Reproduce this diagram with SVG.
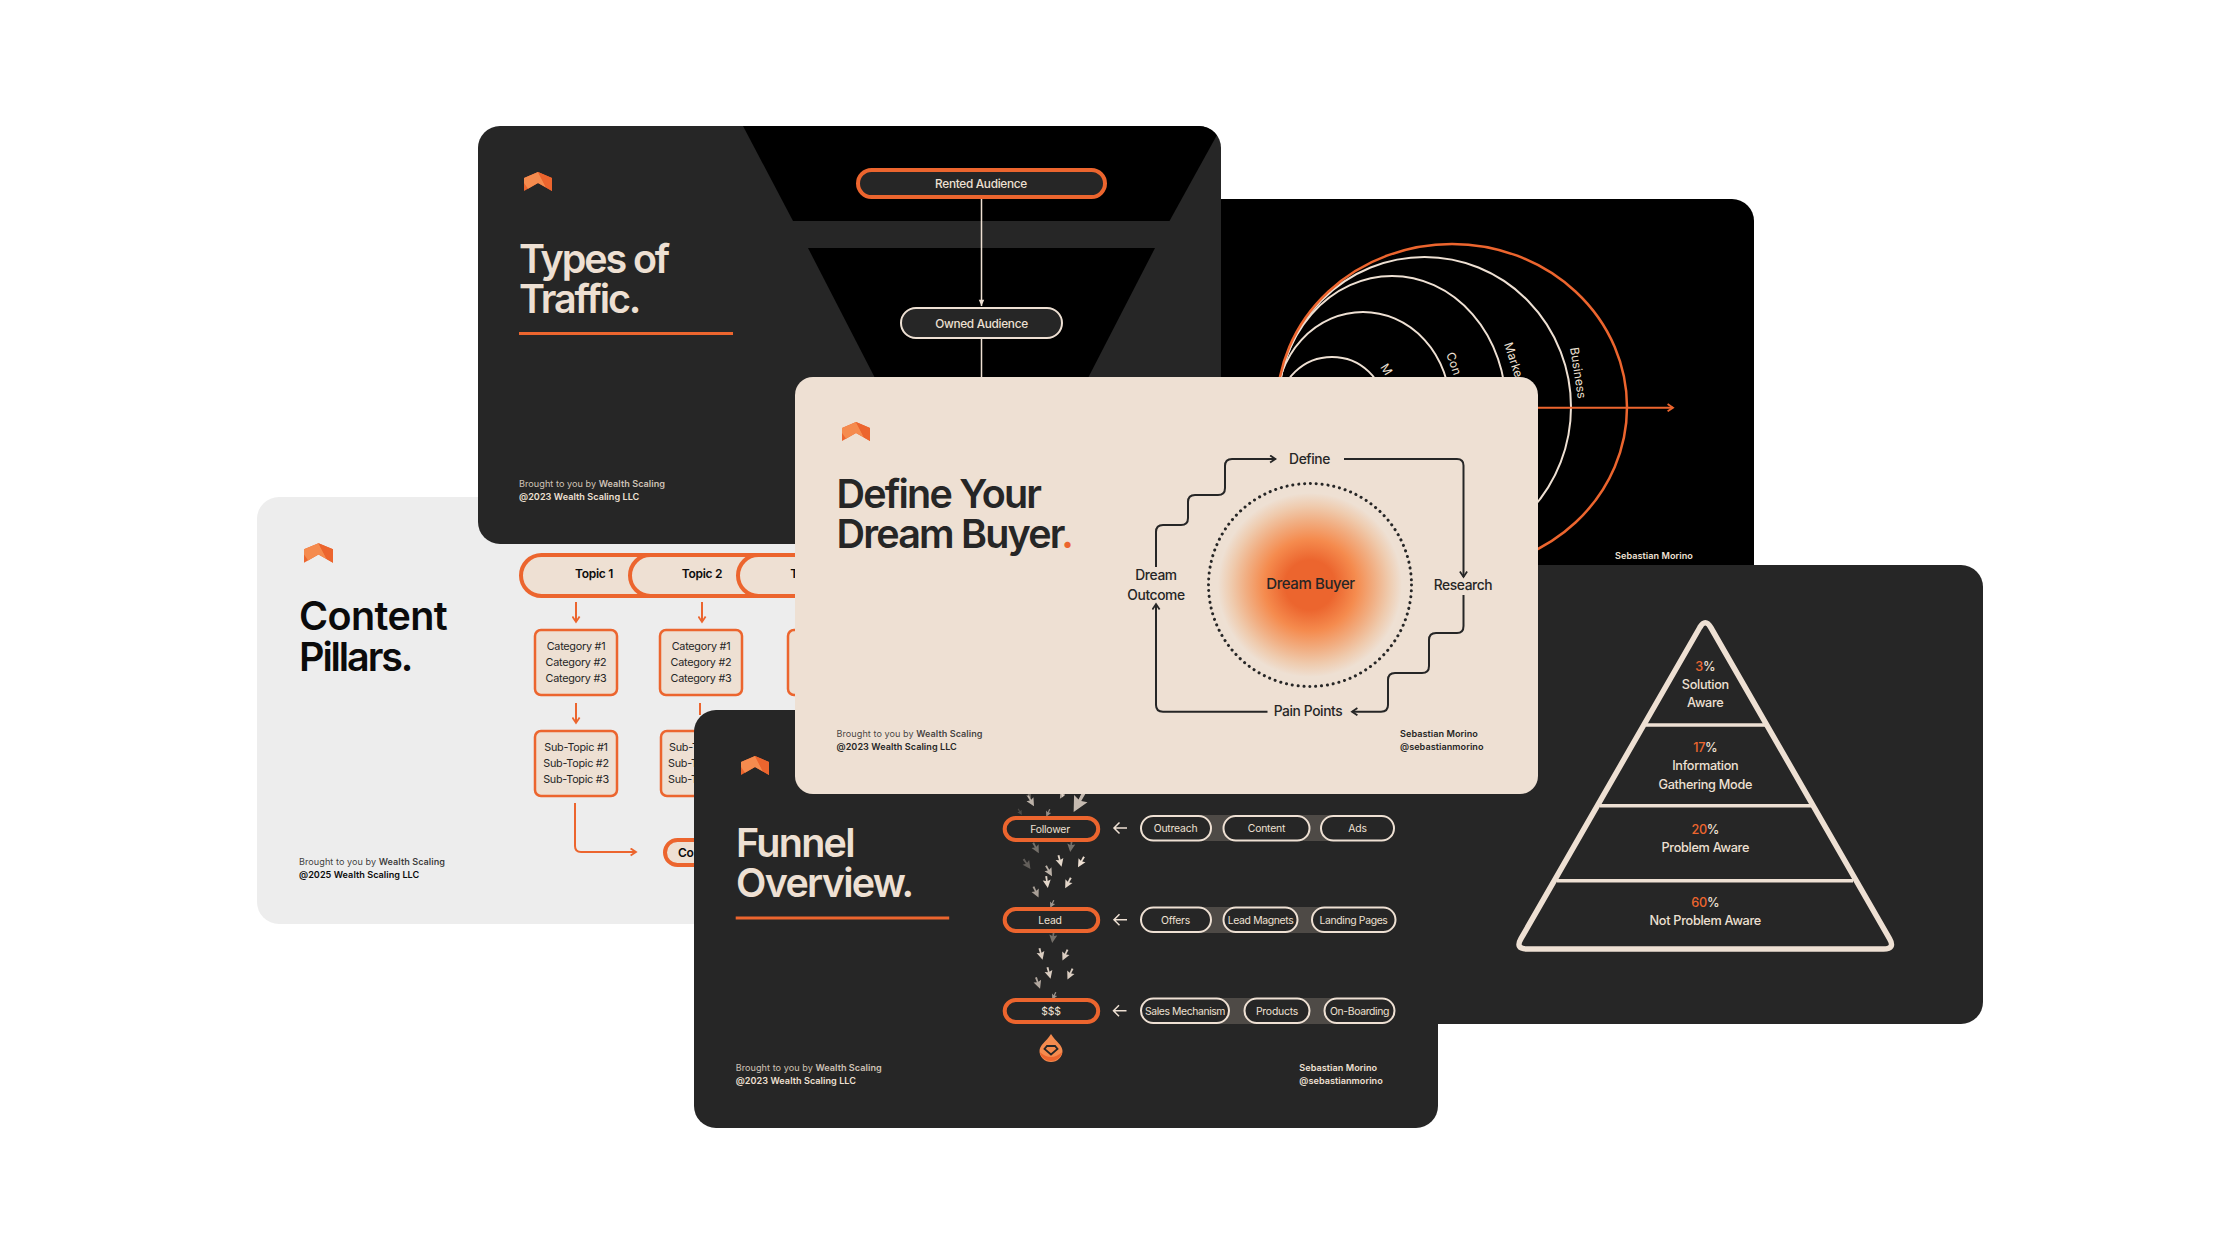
<svg xmlns="http://www.w3.org/2000/svg" width="2240" height="1260" viewBox="0 0 2240 1260">
<style>
text{font-family:"Inter","Liberation Sans",sans-serif;}
.card{stroke:none}
.dk{fill:#262626}.bk{fill:#000}.cr{fill:#EEE0D3}.gy{fill:#EDEDED}
.title{font-size:39.5px;font-weight:600;letter-spacing:-2.1px}
.tc{fill:#EEE0D3}.td{fill:#262626}.tb{fill:#0b0b0b}.to{fill:#EC652E}
.foot{font-size:9.1px;letter-spacing:.05px;font-weight:400}
.foot tspan{font-weight:600}
.lab{font-size:11.8px;text-anchor:middle;font-weight:500;letter-spacing:-.3px}
.nav{font-size:10.4px;text-anchor:middle;letter-spacing:-.2px}
.dia{font-size:13.8px;text-anchor:middle;font-weight:500;letter-spacing:-.4px}
.pyr{font-size:12.7px;text-anchor:middle;font-weight:500;letter-spacing:-.3px}
.cat{font-size:10.8px;text-anchor:middle;letter-spacing:-.25px}
.top{font-size:12px;text-anchor:middle;font-weight:600;letter-spacing:-.3px}
.arc{font-size:12px;letter-spacing:.1px}
.po{fill:#262626;stroke:#EC652E;stroke-width:4}
.pc{fill:#262626;stroke:#EEE0D3;stroke-width:2}
.bo{fill:#EEE0D3;stroke:#EC652E;stroke-width:2.5}
.lo{fill:none;stroke:#EC652E;stroke-width:2}
.lc{fill:none;stroke:#EEE0D3;stroke-width:1.5}
.ld{fill:none;stroke:#262626;stroke-width:2}
.band{fill:#4E4A46}
</style>
<defs>
<symbol id="logo" viewBox="0 0 28 19" overflow="visible">
<path d="M0 6 14 0 28 6V19L14 11 0 19Z" fill="#EC652E"/>
<path d="M0 6 14 0 22 15.500 14 11 4 16.700 0 11Z" fill="#F58B4E"/>
<path d="M14 0 21 3 28 6V19L22 15.500Z" fill="#EC652E"/>
</symbol>
<marker id="ao" viewBox="0 0 10 10" refX="8" refY="5" markerWidth="4.500" markerHeight="4.500" orient="auto"><path d="M2 1 8 5 2 9" fill="none" stroke="#EC652E" stroke-width="2"/></marker>
<marker id="ad" viewBox="0 0 10 10" refX="8" refY="5" markerWidth="4.500" markerHeight="4.500" orient="auto"><path d="M2 1 8 5 2 9" fill="none" stroke="#262626" stroke-width="2"/></marker>
<marker id="ac" viewBox="0 0 10 10" refX="9" refY="5" markerWidth="6" markerHeight="6" orient="auto"><path d="M2 2 9 5 2 8Z" fill="#EEE0D3"/></marker>
<path id="fl" d="M0 6-4-2-.8-1-1-6 1-6 .8-1 4-2Z" fill="#EEE0D3"/>
<clipPath id="c1"><rect x="478" y="126" width="743" height="418" rx="22"/></clipPath>
<radialGradient id="glow">
<stop offset="0" stop-color="#EC652E"/><stop offset=".27" stop-color="#EC652E"/><stop offset=".5" stop-color="#F58B4E"/><stop offset=".7" stop-color="#F1AE82"/><stop offset=".86" stop-color="#EFCBAE"/><stop offset="1" stop-color="#EEE0D3"/>
</radialGradient>
</defs>
<rect width="2240" height="1260" fill="#fff"/>

<g id="card-content-pillars">
<rect class="card gy" x="257" y="497" width="743" height="427" rx="22"/>
<use href="#logo" x="304" y="543" width="29" height="20"/>
<text class="title tb" x="299" y="630"><tspan style="letter-spacing:-.6px">Content</tspan><tspan x="299" y="670.500">Pillars.</tspan></text>
<text class="foot tb" x="299" y="865" fill-opacity=".8">Brought to you by <tspan>Wealth Scaling</tspan></text>
<text class="foot tb" x="299" y="878"><tspan>@2025 Wealth Scaling LLC</tspan></text>
<g id="topic-1"><rect class="bo" x="521" y="555" width="190" height="41" rx="20.500" style="stroke-width:4"/><text class="top tb" x="594" y="578">Topic 1</text></g>
<g id="topic-2"><rect class="bo" x="630" y="555" width="190" height="41" rx="20.500" style="stroke-width:4"/><text class="top tb" x="702" y="578">Topic 2</text></g>
<g id="topic-3"><rect class="bo" x="738" y="555" width="190" height="41" rx="20.500" style="stroke-width:4"/><text class="top tb" x="794" y="578">T</text></g>
<g id="cat-1"><rect class="bo" x="535" y="630" width="82" height="65" rx="6"/><text class="cat td" x="576" y="649.500">Category #1</text><text class="cat td" x="576" y="666">Category #2</text><text class="cat td" x="576" y="682">Category #3</text></g>
<g id="cat-2"><rect class="bo" x="660" y="630" width="82" height="65" rx="6"/><text class="cat td" x="701" y="649.500">Category #1</text><text class="cat td" x="701" y="666">Category #2</text><text class="cat td" x="701" y="682">Category #3</text></g>
<g id="cat-3"><rect class="bo" x="788" y="630" width="82" height="65" rx="6"/></g>
<g id="sub-1"><rect class="bo" x="535" y="731" width="82" height="65" rx="6"/><text class="cat td" x="576" y="751">Sub-Topic #1</text><text class="cat td" x="576" y="767">Sub-Topic #2</text><text class="cat td" x="576" y="782.500">Sub-Topic #3</text></g>
<g id="sub-2"><rect class="bo" x="661" y="731" width="82" height="65" rx="6"/><text class="cat td" x="669" y="751" style="text-anchor:start">Sub-T</text><text class="cat td" x="668" y="767" style="text-anchor:start">Sub-T</text><text class="cat td" x="668" y="782.500" style="text-anchor:start">Sub-T</text></g>
<g id="pill-co"><rect class="bo" x="665" y="840" width="100" height="25" rx="12.500" style="stroke-width:4"/><text class="top tb" x="678" y="857" style="text-anchor:start">Co</text></g>
<g id="pillars-connectors">
<path class="lo" marker-end="url(#ao)" d="M576 602V622"/>
<path class="lo" marker-end="url(#ao)" d="M702 602V622"/>
<path class="lo" marker-end="url(#ao)" d="M576 703V723"/>
<path class="lo" d="M700 703V715"/>
<path class="lo" marker-end="url(#ao)" d="M575 803V846Q575 852 581 852H636"/>
</g>
</g>

<g id="card-circles">
<rect class="card bk" x="1011" y="199" width="743" height="418" rx="22"/>
<g id="rings" fill="none" stroke="#EEE0D3" stroke-width="2">
<ellipse cx="1332" cy="407" rx="52" ry="50"/>
<ellipse cx="1363" cy="407" rx="87" ry="95"/>
<ellipse cx="1392" cy="407" rx="114" ry="131"/>
<ellipse cx="1424.500" cy="407" rx="146.500" ry="150"/>
<ellipse cx="1452" cy="407" rx="175" ry="163" stroke="#EC652E" stroke-width="2.500"/>
</g>
<g id="circles-connectors"><path class="lo" marker-end="url(#ao)" d="M1500 407.700H1673"/></g>
<text class="arc tc" transform="translate(1570 348) rotate(81)">Business</text>
<text class="arc tc" transform="translate(1504 344) rotate(72)">Marke</text>
<text class="arc tc" transform="translate(1446 354) rotate(70)">Con</text>
<text class="arc tc" transform="translate(1380 367) rotate(58)">M</text>
<text class="foot tc" x="1615" y="559"><tspan>Sebastian Morino</tspan></text>
</g>

<g id="card-traffic">
<rect class="card dk" x="478" y="126" width="743" height="418" rx="22"/>
<g clip-path="url(#c1)"><path class="bk" d="M743 126H1222L1169.500 221H793Z"/><path class="bk" d="M808 248H1155L1087 380H876Z"/></g>
<use href="#logo" x="524" y="172" width="28" height="19"/>
<text class="title tc" x="519" y="272.500"><tspan>Types of</tspan><tspan x="519" y="312.500">Traffic.</tspan></text>
<rect x="519" y="332" width="214" height="3" fill="#EC652E"/>
<text class="foot tc" x="519" y="487" fill-opacity=".85">Brought to you by <tspan>Wealth Scaling</tspan></text>
<text class="foot tc" x="519" y="499.500"><tspan>@2023 Wealth Scaling LLC</tspan></text>
<g id="traffic-connectors">
<path class="lc" marker-end="url(#ac)" d="M981.500 199V306"/>
<path class="lc" d="M981.500 339V380"/>
</g>
<g id="rented-audience"><rect class="po" x="858" y="170" width="247" height="27" rx="13.500"/><text class="lab tc" x="981" y="187.500">Rented Audience</text></g>
<g id="owned-audience"><rect class="pc" x="901" y="308" width="161" height="30" rx="15"/><text class="lab tc" x="981.500" y="327.500">Owned Audience</text></g>
</g>

<g id="card-pyramid">
<rect class="card dk" x="1240" y="565" width="743" height="459" rx="22"/>
<path d="M1699.800 627.500Q1705.300 618 1710.800 627.500L1889.500 938.600Q1895.500 949 1883.500 949H1527Q1515 949 1521 938.600Z" fill="none" stroke="#EEE0D3" stroke-width="5.500" stroke-linejoin="round"/>
<path d="M1646 725H1765M1600 805.700H1812M1557 880.700H1853" fill="none" stroke="#EEE0D3" stroke-width="3.500"/>
<g id="tier-3"><text class="pyr tc" x="1705.300" y="670.700"><tspan class="to">3</tspan>%</text><text class="pyr tc" x="1705.300" y="688.700">Solution</text><text class="pyr tc" x="1705.300" y="707">Aware</text></g>
<g id="tier-17"><text class="pyr tc" x="1705.300" y="751.700"><tspan class="to">17</tspan>%</text><text class="pyr tc" x="1705.300" y="770">Information</text><text class="pyr tc" x="1705.300" y="788.700">Gathering Mode</text></g>
<g id="tier-20"><text class="pyr tc" x="1705.300" y="834"><tspan class="to">20</tspan>%</text><text class="pyr tc" x="1705.300" y="852">Problem Aware</text></g>
<g id="tier-60"><text class="pyr tc" x="1705.300" y="906.700"><tspan class="to">60</tspan>%</text><text class="pyr tc" x="1705.300" y="925">Not Problem Aware</text></g>
</g>

<g id="card-funnel">
<rect class="card dk" x="694" y="710" width="744" height="418" rx="22"/>
<use href="#logo" x="741" y="756" width="28" height="19"/>
<text class="title tc" x="736" y="857" style="letter-spacing:-1.700px"><tspan>Funnel</tspan><tspan x="736" y="897">Overview.</tspan></text>
<rect x="735.700" y="916.500" width="213.500" height="3" fill="#EC652E"/>
<text class="foot tc" x="735.700" y="1071" fill-opacity=".85">Brought to you by <tspan>Wealth Scaling</tspan></text>
<text class="foot tc" x="735.700" y="1084"><tspan>@2023 Wealth Scaling LLC</tspan></text>
<text class="foot tc" x="1299.300" y="1071"><tspan>Sebastian Morino</tspan></text>
<text class="foot tc" x="1299.300" y="1084"><tspan>@sebastianmorino</tspan></text>
<g id="flow-arrows">
<use href="#fl" transform="translate(1029 795) rotate(-30) scale(.7)" opacity=".3"/>
<use href="#fl" transform="translate(1031 801) rotate(-30)" opacity=".75"/>
<use href="#fl" transform="translate(1063 794) rotate(10) scale(.6)" opacity=".7"/>
<use href="#fl" transform="translate(1062 795) rotate(30) scale(.7)" opacity=".7"/>
<use href="#fl" transform="translate(1079 802) rotate(28) scale(1.900)" opacity=".8"/>
<use href="#fl" transform="translate(1020 812) rotate(-30) scale(.6)" opacity=".2"/>
<use href="#fl" transform="translate(1048 813) rotate(25) scale(.7)" opacity=".55"/>
<use href="#fl" transform="translate(1036 848) rotate(-28)" opacity=".4"/>
<use href="#fl" transform="translate(1071 846) rotate(8)" opacity=".4"/>
<use href="#fl" transform="translate(1027 864) rotate(-35)" opacity=".3"/>
<use href="#fl" transform="translate(1060 861) rotate(-15)" opacity=".95"/>
<use href="#fl" transform="translate(1081 862) rotate(30)" opacity="1"/>
<use href="#fl" transform="translate(1049 871) rotate(-30)" opacity=".75"/>
<use href="#fl" transform="translate(1047 882) rotate(-8)" opacity=".95"/>
<use href="#fl" transform="translate(1068 883) rotate(28)" opacity=".95"/>
<use href="#fl" transform="translate(1036 892) rotate(-25)" opacity=".65"/>
<use href="#fl" transform="translate(1052 904) rotate(25) scale(.7)" opacity=".6"/>
<use href="#fl" transform="translate(1053 937) rotate(8)" opacity=".4"/>
<use href="#fl" transform="translate(1041 954) rotate(-15)" opacity=".9"/>
<use href="#fl" transform="translate(1065 955) rotate(25)" opacity=".9"/>
<use href="#fl" transform="translate(1049 973) rotate(-15)" opacity=".9"/>
<use href="#fl" transform="translate(1070 974) rotate(25)" opacity=".9"/>
<use href="#fl" transform="translate(1038 983) rotate(-20)" opacity=".7"/>
<use href="#fl" transform="translate(1054 996) rotate(25) scale(.7)" opacity=".6"/>
</g>
<g id="funnel-connectors">
<path class="lc" d="M1127 828H1114M1119.500 822.500 1114 828 1119.500 833.500"/>
<path class="lc" d="M1127 919.700H1114M1119.500 914.200 1114 919.700 1119.500 925.200"/>
<path class="lc" d="M1126.500 1010.700H1113.500M1119 1005.200 1113.500 1010.700 1119 1016.200"/>
<rect class="band" x="1200" y="815" width="130" height="26"/>
<rect class="band" x="1200" y="907" width="125" height="26"/>
<rect class="band" x="1215" y="998" width="120" height="26"/>
</g>
<g id="follower"><rect class="po" x="1004.700" y="818" width="93.500" height="22" rx="11"/><text class="nav tc" x="1050" y="832.500">Follower</text></g>
<g id="lead"><rect class="po" x="1004.700" y="909" width="93.500" height="22" rx="11"/><text class="nav tc" x="1050" y="923.500">Lead</text></g>
<g id="money"><rect class="po" x="1004.700" y="1000" width="93.500" height="22" rx="11"/><text class="nav tc" x="1051" y="1014.500">$$$</text></g>
<g id="outreach"><rect class="pc" x="1141" y="816" width="70" height="24.500" rx="12.250"/><text class="nav tc" x="1175.500" y="832">Outreach</text></g>
<g id="content"><rect class="pc" x="1223.500" y="816" width="86" height="24.500" rx="12.250"/><text class="nav tc" x="1266.500" y="832">Content</text></g>
<g id="ads"><rect class="pc" x="1321" y="816" width="73" height="24.500" rx="12.250"/><text class="nav tc" x="1357.500" y="832">Ads</text></g>
<g id="offers"><rect class="pc" x="1141" y="907.500" width="70" height="24.500" rx="12.250"/><text class="nav tc" x="1175.500" y="923.500">Offers</text></g>
<g id="lead-magnets"><rect class="pc" x="1223.500" y="907.500" width="74" height="24.500" rx="12.250"/><text class="nav tc" x="1260.500" y="923.500" style="letter-spacing:-.35px">Lead Magnets</text></g>
<g id="landing-pages"><rect class="pc" x="1312" y="907.500" width="83.500" height="24.500" rx="12.250"/><text class="nav tc" x="1353.500" y="923.500" style="letter-spacing:-.35px">Landing Pages</text></g>
<g id="sales-mechanism"><rect class="pc" x="1141" y="998.500" width="88" height="24.500" rx="12.250"/><text class="nav tc" x="1185" y="1014.500" style="letter-spacing:-.4px">Sales Mechanism</text></g>
<g id="products"><rect class="pc" x="1244.500" y="998.500" width="65" height="24.500" rx="12.250"/><text class="nav tc" x="1277" y="1014.500">Products</text></g>
<g id="on-boarding"><rect class="pc" x="1324.500" y="998.500" width="70" height="24.500" rx="12.250"/><text class="nav tc" x="1359.500" y="1014.500" style="letter-spacing:-.35px">On-Boarding</text></g>
<g id="drop">
<path d="M1051 1034C1056 1042 1062.500 1045 1062.500 1051A11.500 11 0 0 1 1039.500 1051C1039.500 1045 1046 1042 1051 1034Z" fill="#F58B4E"/>
<path d="M1039.700 1052Q1051 1062 1062.300 1052A11.500 11 0 0 1 1039.700 1052Z" fill="#EC652E"/>
<path d="M1047 1046H1055L1057.500 1049 1051 1054.500 1044.500 1049Z" fill="none" stroke="#262626" stroke-width="1.800"/>
</g>
</g>

<g id="card-dream-buyer">
<rect class="card cr" x="795" y="377" width="743" height="417" rx="18"/>
<use href="#logo" x="842" y="422" width="28" height="19"/>
<text class="title td" x="836.500" y="507.500" style="letter-spacing:-1.800px"><tspan>Define Your</tspan><tspan x="836.500" y="547.500">Dream Buyer<tspan class="to">.</tspan></tspan></text>
<text class="foot td" x="836.500" y="737" fill-opacity=".85">Brought to you by <tspan>Wealth Scaling</tspan></text>
<text class="foot td" x="836.500" y="750"><tspan>@2023 Wealth Scaling LLC</tspan></text>
<text class="foot td" x="1400" y="737"><tspan>Sebastian Morino</tspan></text>
<text class="foot td" x="1400" y="750"><tspan>@sebastianmorino</tspan></text>
<g id="dream-buyer-core">
<circle cx="1310" cy="585" r="92" fill="url(#glow)"/>
<circle cx="1310" cy="585" r="101.500" fill="none" stroke="#262626" stroke-width="3" stroke-linecap="round" stroke-dasharray=".1 5.800"/>
<text class="dia td" x="1310.500" y="588.500" style="font-size:15px">Dream Buyer</text>
</g>
<g id="define"><text class="dia td" x="1309.500" y="463.500">Define</text></g>
<g id="research"><text class="dia td" x="1463" y="590">Research</text></g>
<g id="pain-points"><text class="dia td" x="1308" y="716">Pain Points</text></g>
<g id="dream-outcome"><text class="dia td" x="1156" y="580">Dream</text><text class="dia td" x="1156" y="600">Outcome</text></g>
<g id="dream-connectors">
<path class="ld" marker-end="url(#ad)" d="M1344 459H1457Q1463.500 459 1463.500 465.500V577"/>
<path class="ld" marker-end="url(#ad)" d="M1463.500 595V626Q1463.500 633 1457 633H1436Q1429 633 1429 640V666Q1429 673 1422 673H1395Q1388 673 1388 680V705Q1388 711.700 1381 711.700H1352"/>
<path class="ld" marker-end="url(#ad)" d="M1267.500 711.700H1163Q1156 711.700 1156 705V604"/>
<path class="ld" marker-end="url(#ad)" d="M1156 567V532Q1156 525 1163 525H1181Q1188 525 1188 518V502Q1188 495 1195 495H1218Q1225 495 1225 488V466Q1225 459 1232 459H1275.500"/>
</g>
</g>
</svg>
